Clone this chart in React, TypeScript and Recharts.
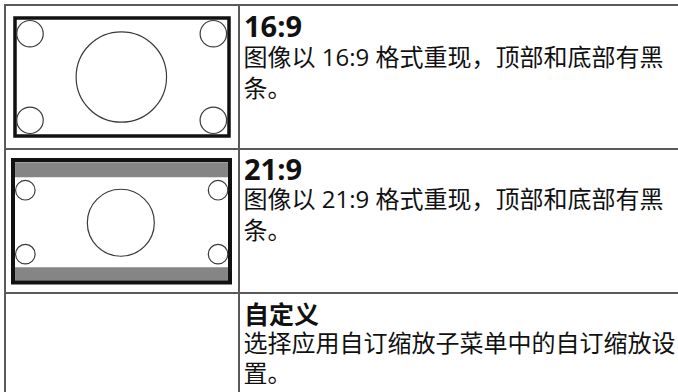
import React from 'react';
import { ScatterChart, Scatter, XAxis, YAxis, ReferenceArea } from 'recharts';

// screen diagrams are drawn in a 16 x 9 unit space, y counted from the top
const screenX = [0, 16];
const screenY = [0, 9];

// 16:9 picture: one big circle in the middle, four small ones in the corners
const fit169X = [7.95, 1.12, 14.83, 1.12, 14.83];
const fit169Y = [4.5, 1.2, 1.2, 7.8, 7.8];
const fit169R = [3.38, 0.99, 0.99, 0.99, 0.99];

// 21:9 picture: smaller circles, grey bars top and bottom
const fit219X = [7.95, 0.91, 15.12, 0.91, 15.12];
const fit219Y = [4.61, 2.22, 2.22, 6.92, 6.92];
const fit219R = [2.47, 0.72, 0.72, 0.72, 0.72];
const fit219Bars = [
  [0.16, 1.26],
  [7.88, 8.87],
];

const headings = ['16:9', '21:9', '自定义'];
const descFirst = [
  '图像以 16:9 格式重现，顶部和底部有黑',
  '图像以 21:9 格式重现，顶部和底部有黑',
  '选择应用自订缩放子菜单中的自订缩放设',
];
const descSecond = ['条。', '条。', '置。'];

// baselines of the text lines in each row
const rowBaselines = [
  { h: 37, b1: 65.5, b2: 97 },
  { h: 180, b1: 207.5, b2: 238.5 },
  { h: 323.5, b1: 351.5, b2: 382 },
];

const FONT = '"Open Sans", "Noto Sans CJK SC", sans-serif';
const LINE = '#5a5a5a';

interface DiagramProps {
  left: number;
  top: number;
  width: number;
  height: number;
  frameWidth: number;
  xs: number[];
  ys: number[];
  rs: number[];
  bars?: number[][];
}

function ScreenDiagram({ left, top, width, height, frameWidth, xs, ys, rs, bars = [] }: DiagramProps) {
  const m = 3;
  const unit = (width - 2 * m) / (screenX[1] - screenX[0]);
  const data = xs.map((x, i) => ({ x, y: ys[i], r: rs[i] }));

  return (
    <div style={{ position: 'absolute', left, top }}>
      <ScatterChart width={width} height={height} margin={{ top: m, right: m, bottom: m, left: m }}>
        <XAxis type="number" dataKey="x" domain={screenX} hide allowDataOverflow />
        <YAxis type="number" dataKey="y" domain={screenY} reversed hide allowDataOverflow />
        {bars.map(([y1, y2], i) => (
          <ReferenceArea
            key={i}
            x1={0.15}
            x2={15.85}
            y1={y1}
            y2={y2}
            fill="#858585"
            fillOpacity={1}
            stroke="none"
            ifOverflow="visible"
          />
        ))}
        <Scatter
          data={data}
          isAnimationActive={false}
          shape={(p: any) => (
            <circle cx={p.cx} cy={p.cy} r={p.payload.r * unit} fill="none" stroke="#3a3a3a" strokeWidth={1.2} />
          )}
        />
        <ReferenceArea
          x1={0}
          x2={16}
          y1={0}
          y2={9}
          fill="none"
          fillOpacity={0}
          stroke="#111"
          strokeWidth={frameWidth}
          ifOverflow="visible"
        />
      </ScatterChart>
    </div>
  );
}

export default function App() {
  return (
    <div
      style={{
        position: 'fixed',
        left: 0,
        top: 0,
        width: 678,
        height: 392,
        background: '#fff',
        overflow: 'hidden',
      }}
    >
      {/* table rules */}
      <div style={{ position: 'absolute', left: 4, top: 4, width: 2, height: 388, background: LINE }} />
      <div style={{ position: 'absolute', left: 238, top: 4, width: 2, height: 388, background: LINE }} />
      <div style={{ position: 'absolute', left: 4, top: 4, width: 674, height: 2, background: LINE }} />
      <div style={{ position: 'absolute', left: 4, top: 148, width: 674, height: 2, background: LINE }} />
      <div style={{ position: 'absolute', left: 4, top: 292, width: 674, height: 2, background: LINE }} />

      <ScreenDiagram left={12} top={15} width={220} height={124} frameWidth={3.5} xs={fit169X} ys={fit169Y} rs={fit169R} />
      <ScreenDiagram
        left={10}
        top={156.5}
        width={223}
        height={128.5}
        frameWidth={4}
        xs={fit219X}
        ys={fit219Y}
        rs={fit219R}
        bars={fit219Bars}
      />

      <svg width={678} height={392} style={{ position: 'absolute', left: 0, top: 0 }}>
        {headings.map((h, i) => {
          const cjk = /[\u4e00-\u9fff]/.test(h);
          const y = rowBaselines[i];
          return (
            <g key={h} fontFamily={FONT} fill="#111">
              <text x={244} y={y.h} fontSize={cjk ? 25 : 29} fontWeight={700}>
                {h}
              </text>
              <text x={243.5} y={y.b1} fontSize={24}>
                {descFirst[i]}
              </text>
              <text x={243.5} y={y.b2} fontSize={24}>
                {descSecond[i]}
              </text>
            </g>
          );
        })}
      </svg>
    </div>
  );
}
